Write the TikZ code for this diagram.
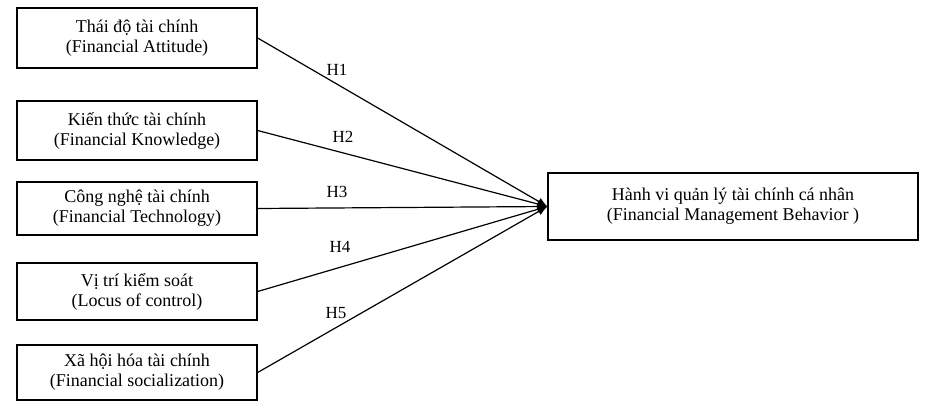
\documentclass[tikz,border=0pt]{standalone}
\usepackage{fontspec}
\setmainfont{Liberation Serif}
\usetikzlibrary{arrows.meta}
\begin{document}
\begin{tikzpicture}[x=1pt,y=-1pt,
  lbox/.style={draw,line width=1.3pt,minimum width=240pt,align=center,font=\fontsize{18}{20}\selectfont,inner sep=0pt},
  conn/.style={line width=1.2pt,-{Latex[length=10pt,width=8pt]}},
  hl/.style={font=\fontsize{17}{19}\selectfont}]
\useasboundingbox (0,0) rectangle (938,420);
\node[lbox,minimum height=60pt] (a) at (137,38) {Thái độ tài chính\\(Financial Attitude)};
\node[lbox,minimum height=59pt] (b) at (137,130.5) {Kiến thức tài chính\\(Financial Knowledge)};
\node[lbox,minimum height=53pt] (c) at (137,208.5) {Công nghệ tài chính\\(Financial Technology)};
\node[lbox,minimum height=57pt] (d) at (137,291.5) {Vị trí kiểm soát\\(Locus of control)};
\node[lbox,minimum height=55pt] (e) at (137,372.5) {Xã hội hóa tài chính\\(Financial socialization)};
\node[lbox,minimum width=370pt,minimum height=67pt] (t) at (733,206.5) {Hành vi quản lý tài chính cá nhân\\(Financial Management Behavior )};
\coordinate (p) at (t.west);
\draw[conn] (a.east) -- (p);
\draw[conn] (b.east) -- (p);
\draw[conn] (c.east) -- (p);
\draw[conn] (d.east) -- (p);
\draw[conn] (e.east) -- (p);
\node[hl] (h1) at (337,70) {H1};
\node[hl] (h2) at (343,137) {H2};
\node[hl] (h3) at (337,192) {H3};
\node[hl] (h4) at (340,247) {H4};
\node[hl] (h5) at (336,313) {H5};
\end{tikzpicture}
\end{document}
